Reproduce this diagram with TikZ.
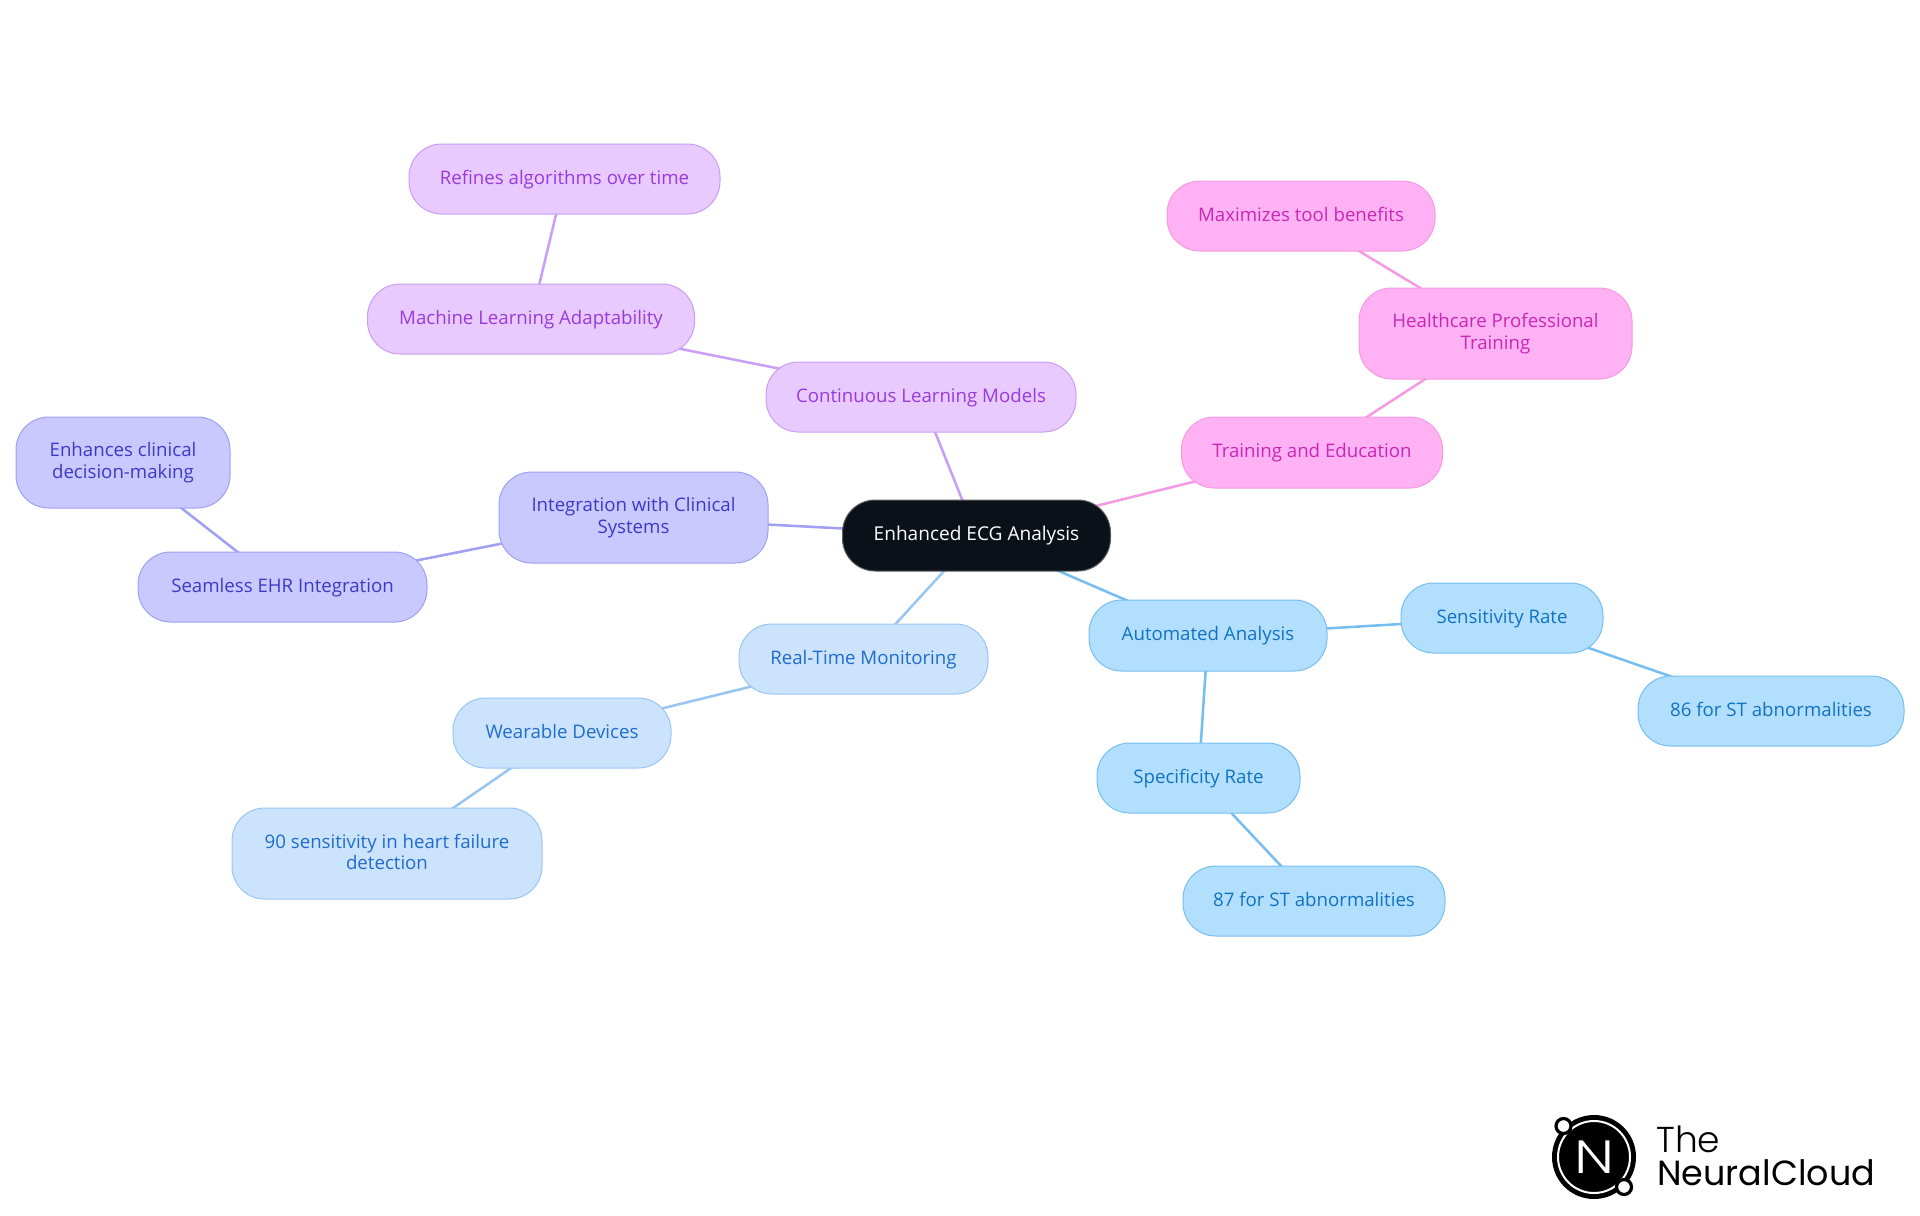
\documentclass[tikz,border=0pt]{standalone}
\usepackage{fontspec}
\setmainfont{Open Sans}
\newfontfamily\logofont{Poppins}[UprightFont=* Light]
\newfontfamily\logofontb{Poppins}
\usetikzlibrary{backgrounds}
\definecolor{rootfill}{HTML}{0B1119}
\definecolor{bluefill}{HTML}{B3DFFF}\definecolor{bluetext}{HTML}{1272C2}\definecolor{blueline}{HTML}{76BEF0}
\definecolor{skyfill}{HTML}{CCE3FD}\definecolor{skytext}{HTML}{1F6CCC}\definecolor{skyline}{HTML}{98C6F3}
\definecolor{indfill}{HTML}{C9C9FF}\definecolor{indtext}{HTML}{3D39C8}\definecolor{indline}{HTML}{A0A0F3}
\definecolor{purfill}{HTML}{E8CAFF}\definecolor{purtext}{HTML}{983ADC}\definecolor{purline}{HTML}{CA9EF5}
\definecolor{pinkfill}{HTML}{FFB2F3}\definecolor{pinktext}{HTML}{C926B8}\definecolor{pinkline}{HTML}{F59AE4}
\newcommand{\mystrut}{\rule[-2.7pt]{0pt}{14pt}}
\tikzset{
 x=0.75pt,y=-0.75pt,
 box/.style args={#1/#2}{rounded corners=24.5pt,draw,line width=0.75pt,align=center,font=\fontsize{14pt}{16pt}\selectfont,inner sep=0pt,minimum width=#1*0.75pt,minimum height=#2*0.75pt,execute at begin node=\mystrut,execute at end node=\mystrut},
 rootbox/.style={box=#1,fill=rootfill,draw=gray!70!rootfill,text=white},
 bluebox/.style={box=#1,fill=bluefill,draw=blueline,text=bluetext},
 skybox/.style={box=#1,fill=skyfill,draw=skyline,text=skytext},
 indbox/.style={box=#1,fill=indfill,draw=indline,text=indtext},
 purbox/.style={box=#1,fill=purfill,draw=purline,text=purtext},
 pinkbox/.style={box=#1,fill=pinkfill,draw=pinkline,text=pinktext},
 link/.style={line width=1.9pt},
}
\begin{document}
\begin{tikzpicture}
\useasboundingbox (0,0) rectangle (1920,1215);
\node[rootbox=268/71] (root) at (976.5,535.5) {\fontsize{14.3pt}{16pt}\selectfont Enhanced ECG Analysis};
\node[bluebox=238/71] (auto) at (1208,635.5) {Automated Analysis};
\node[bluebox=202/70] (sens) at (1502,618) {Sensitivity Rate};
\node[bluebox=266/70] (st86) at (1771,711) {86 for ST abnormalities};
\node[bluebox=203/70] (spec) at (1198.5,778) {Specificity Rate};
\node[bluebox=262/70] (st87) at (1314,901) {87 for ST abnormalities};
\node[skybox=249/70] (real) at (863.5,659) {Real-Time Monitoring};
\node[skybox=218/70] (wear) at (562,733) {Wearable Devices};
\node[skybox=310/91] (hf) at (387,853.5) {90 sensitivity in heart failure\\detection};
\node[indbox=269/91] (integ) at (633.5,517.5) {Integration with Clinical\\Systems};
\node[indbox=289/70] (ehr) at (282.5,587) {Seamless EHR Integration};
\node[indbox=214/91] (dec) at (123,462.5) {Enhances clinical\\decision-making};
\node[purbox=310/70] (cont) at (921,397) {Continuous Learning Models};
\node[purbox=327/70] (ml) at (531,319) {Machine Learning Adaptability};
\node[purbox=311/70] (ref) at (564.5,179) {Refines algorithms over time};
\node[pinkbox=261/71] (train) at (1312,452.5) {Training and Education};
\node[pinkbox=273/91] (prof) at (1495.5,333.5) {Healthcare Professional\\Training};
\node[pinkbox=268/70] (max) at (1301,216) {Maximizes tool benefits};
\begin{scope}[on background layer]
\draw[link,blueline] (root.center) -- (auto.center);
\draw[link,blueline] (auto.center) -- (sens.center);
\draw[link,blueline] (sens.center) -- (st86.center);
\draw[link,blueline] (auto.center) -- (spec.center);
\draw[link,blueline] (spec.center) -- (st87.center);
\draw[link,skyline] (root.center) -- (real.center);
\draw[link,skyline] (real.center) -- (wear.center);
\draw[link,skyline] (wear.center) -- (hf.center);
\draw[link,indline] (root.center) -- (integ.center);
\draw[link,indline] (integ.center) -- (ehr.center);
\draw[link,indline] (ehr.center) -- (dec.center);
\draw[link,purline] (root.center) -- (cont.center);
\draw[link,purline] (cont.center) -- (ml.center);
\draw[link,purline] (ml.center) -- (ref.center);
\draw[link,pinkline] (root.center) -- (train.center);
\draw[link,pinkline] (train.center) -- (prof.center);
\draw[link,pinkline] (prof.center) -- (max.center);
\end{scope}
% logo
\fill[black] (1594,1157) circle[radius=42*0.75pt];
\draw[white,line width=1.5pt] (1594,1157) circle[radius=36*0.75pt];
\draw[black,fill=white,line width=2.4pt] (1563.5,1126) circle[radius=7.5*0.75pt];
\draw[black,fill=white,line width=2.4pt] (1624,1187) circle[radius=7.5*0.75pt];
\node[text=white,inner sep=0pt,xscale=1.25,font=\logofont\fontsize{35pt}{35pt}\selectfont] (logon) at (1594,1157) {N};
\node[anchor=base west,inner sep=0pt,font=\logofont\fontsize{27pt}{27pt}\selectfont] (logot) at (1656,1152) {The};
\node[anchor=base west,inner sep=0pt,font=\logofontb\fontsize{26.2pt}{27pt}\selectfont] (logob) at (1657,1185) {NeuralCloud};
\end{tikzpicture}
\end{document}
